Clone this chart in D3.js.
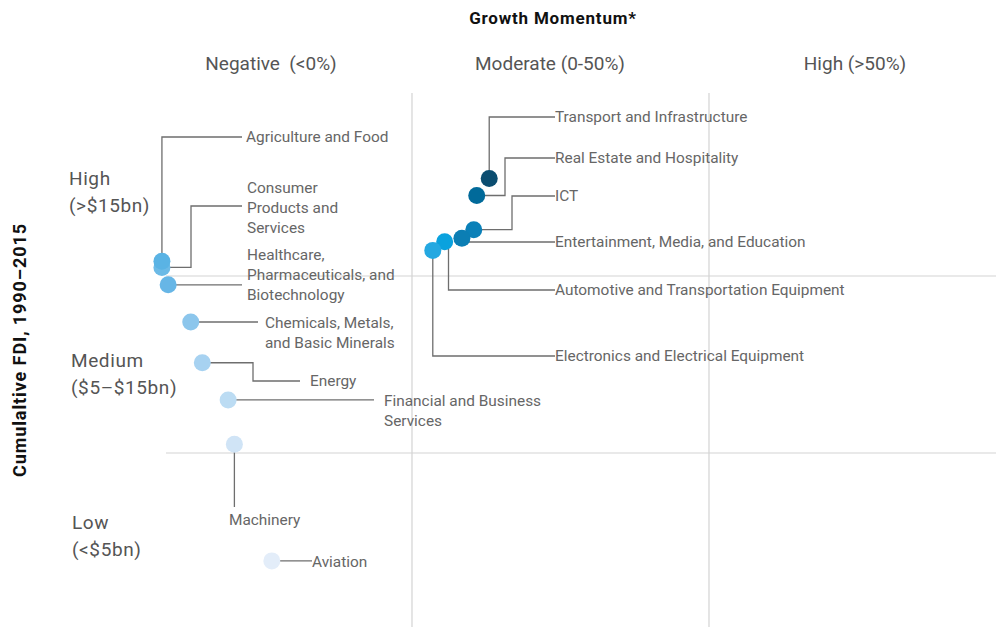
<!DOCTYPE html>
<html>
<head>
<meta charset="utf-8">
<script src="https://cdn.jsdelivr.net/npm/d3@7"></script>
<style>
  html, body { margin: 0; padding: 0; background: #fff; }
  svg { display: block; font-family: Roboto, "DejaVu Sans", sans-serif; }
</style>
</head>
<body>
<div id="chart"></div>
<script>
// data
const sectors = [
  "Consumer Products and Services",
  "Agriculture and Food",
  "Healthcare, Pharmaceuticals, and Biotechnology",
  "Chemicals, Metals, and Basic Minerals",
  "Energy",
  "Financial and Business Services",
  "Machinery",
  "Aviation",
  "Transport and Infrastructure",
  "Real Estate and Hospitality",
  "ICT",
  "Entertainment, Media, and Education",
  "Automotive and Transportation Equipment",
  "Electronics and Electrical Equipment",
];
// growth momentum, % (estimated)
const growth = [-84.2, -84.2, -82.1, -74.5, -70.6, -61.9, -59.8, -47.2, 13.0, 10.9, 10.4, 8.4, 5.5, 3.5];
// cumulative FDI 1990-2015, $bn (estimated)
const fdi = [15.7, 16.2, 14.5, 12.4, 10.1, 8.0, 5.5, 1.9, 23.0, 21.6, 18.8, 18.1, 17.8, 17.1];

const colHeaders = ["Negative  (<0%)", "Moderate (0-50%)", "High (>50%)"];
const rowHeaders = [["High", "(>$15bn)"], ["Medium", "($5–$15bn)"], ["Low", "(<$5bn)"]];
const growthBreaks = [0, 50];
const fdiBreaks = [15, 5];

// styles
const dotColors = [
  "#6cbae6", "#5ab3e4", "#67b6e6", "#8cc6ec", "#a7d2f1", "#bcdcf3", "#d0e4f6", "#e3edf9",
  "#0b4d70", "#016a9a", "#0a80b8", "#0b7eb4", "#0aa2de", "#24a8e1",
];

// label layout (annotation placement, pixels). null in a leader point = dot coordinate
const labelLayout = {
  "Agriculture and Food": { lines: ["Agriculture and Food"], x: 246, y: 137, leader: [[null, 137], [242, 137]] },
  "Consumer Products and Services": { lines: ["Consumer", "Products and", "Services"], x: 247, y: 188, leader: [[191, null], [191, 206], [242, 206]] },
  "Healthcare, Pharmaceuticals, and Biotechnology": { lines: ["Healthcare,", "Pharmaceuticals, and", "Biotechnology"], x: 247, y: 255, leader: [[242, null]] },
  "Chemicals, Metals, and Basic Minerals": { lines: ["Chemicals, Metals,", "and Basic Minerals"], x: 265, y: 323, leader: [[258, null]] },
  "Energy": { lines: ["Energy"], x: 310, y: 381, leader: [[253, null], [253, 381], [300, 381]] },
  "Financial and Business Services": { lines: ["Financial and Business", "Services"], x: 384, y: 401, leader: [[374, null]] },
  "Machinery": { lines: ["Machinery"], x: 229, y: 520, leader: [[null, 507]] },
  "Aviation": { lines: ["Aviation"], x: 312, y: 562, leader: [[312, null]] },
  "Transport and Infrastructure": { lines: ["Transport and Infrastructure"], x: 555, y: 117, leader: [[null, 117], [555, 117]] },
  "Real Estate and Hospitality": { lines: ["Real Estate and Hospitality"], x: 555, y: 158, leader: [[505, null], [505, 158], [555, 158]] },
  "ICT": { lines: ["ICT"], x: 555, y: 196, leader: [[512, null], [512, 196], [555, 196]] },
  "Entertainment, Media, and Education": { lines: ["Entertainment, Media, and Education"], x: 555, y: 242, leader: [[null, 242], [555, 242]] },
  "Automotive and Transportation Equipment": { lines: ["Automotive and Transportation Equipment"], x: 555, y: 290, leader: [[448.5, null], [448.5, 290], [555, 290]] },
  "Electronics and Electrical Equipment": { lines: ["Electronics and Electrical Equipment"], x: 555, y: 356, leader: [[null, 356], [555, 356]] },
};

const width = 996;
const height = 627;
const lineH = 20;
const textColor = "#666";

const x = d3.scaleLinear().domain([-100, 0, 50, 100]).range([115, 412, 709, 1006]);
const y = d3.scaleLinear().domain([0, 5, 15, 30]).range([627, 453, 276, 93]);

const svg = d3.select("#chart").append("svg")
  .attr("width", width)
  .attr("height", height);

// grid
svg.append("g")
  .selectAll("line")
  .data(growthBreaks)
  .join("line")
  .attr("x1", (d) => x(d)).attr("x2", (d) => x(d))
  .attr("y1", y(30)).attr("y2", height)
  .attr("stroke", "#d3d3d3")
  .attr("stroke-width", 1.2);

svg.append("g")
  .selectAll("line")
  .data(fdiBreaks)
  .join("line")
  .attr("x1", 166).attr("x2", width)
  .attr("y1", (d) => y(d)).attr("y2", (d) => y(d))
  .attr("stroke", "#d3d3d3")
  .attr("stroke-width", 1.2);

// titles
svg.append("text")
  .attr("x", 553).attr("y", 18)
  .attr("text-anchor", "middle").attr("dy", "0.35em")
  .attr("font-weight", 700).attr("font-size", 17).attr("fill", "#111")
  .attr("letter-spacing", 0.8)
  .text("Growth Momentum*");

svg.append("text")
  .attr("transform", "translate(20,350) rotate(-90)")
  .attr("text-anchor", "middle").attr("dy", "0.35em")
  .attr("font-weight", 700).attr("font-size", 18).attr("fill", "#111")
  .attr("letter-spacing", 0.9)
  .text("Cumulaltive FDI, 1990–2015");

// column headers
const colCenters = [271, 550, 855];
svg.append("g")
  .selectAll("text")
  .data(colHeaders)
  .join("text")
  .attr("x", (d, i) => colCenters[i]).attr("y", 63)
  .attr("text-anchor", "middle").attr("dy", "0.35em")
  .attr("font-size", 19).attr("fill", "#555")
  .style("white-space", "pre")
  .text((d) => d);

// row headers
const rowTops = [178, 360, 522];
const rowX = [69, 71, 72];
const rows = svg.append("g")
  .selectAll("text")
  .data(rowHeaders)
  .join("text")
  .attr("font-size", 19).attr("fill", "#555")
  .attr("letter-spacing", 0.6);
rows.selectAll("tspan")
  .data((d, i) => d.map((t, j) => ({ t, i, j })))
  .join("tspan")
  .attr("x", (d) => rowX[d.i])
  .attr("y", (d) => rowTops[d.i] + d.j * 27.5)
  .attr("dy", "0.35em")
  .text((d) => d.t);

// points
const points = sectors.map((name, i) => ({
  name,
  cx: x(growth[i]),
  cy: y(fdi[i]),
  color: dotColors[i],
  layout: labelLayout[name],
}));

// leaders
svg.append("g")
  .attr("fill", "none")
  .attr("stroke", "#6e6e6e")
  .attr("stroke-width", 1.3)
  .selectAll("path")
  .data(points)
  .join("path")
  .attr("d", (d) => {
    const pts = [[d.cx, d.cy]];
    let px = d.cx, py = d.cy;
    d.layout.leader.forEach(([lx, ly]) => {
      px = lx == null ? px : lx;
      py = ly == null ? py : ly;
      pts.push([px, py]);
    });
    return d3.line()(pts);
  });

// dots
svg.append("g")
  .selectAll("circle")
  .data(points)
  .join("circle")
  .attr("cx", (d) => d.cx)
  .attr("cy", (d) => d.cy)
  .attr("r", 8.5)
  .attr("fill", (d) => d.color);

// labels
const labels = svg.append("g")
  .selectAll("text")
  .data(points)
  .join("text")
  .attr("font-size", 15.4)
  .attr("fill", textColor);
labels.selectAll("tspan")
  .data((d) => d.layout.lines.map((t, j) => ({ t, j, l: d.layout })))
  .join("tspan")
  .attr("x", (d) => d.l.x)
  .attr("y", (d) => d.l.y + d.j * lineH)
  .attr("dy", "0.35em")
  .text((d) => d.t);
</script>
</body>
</html>
